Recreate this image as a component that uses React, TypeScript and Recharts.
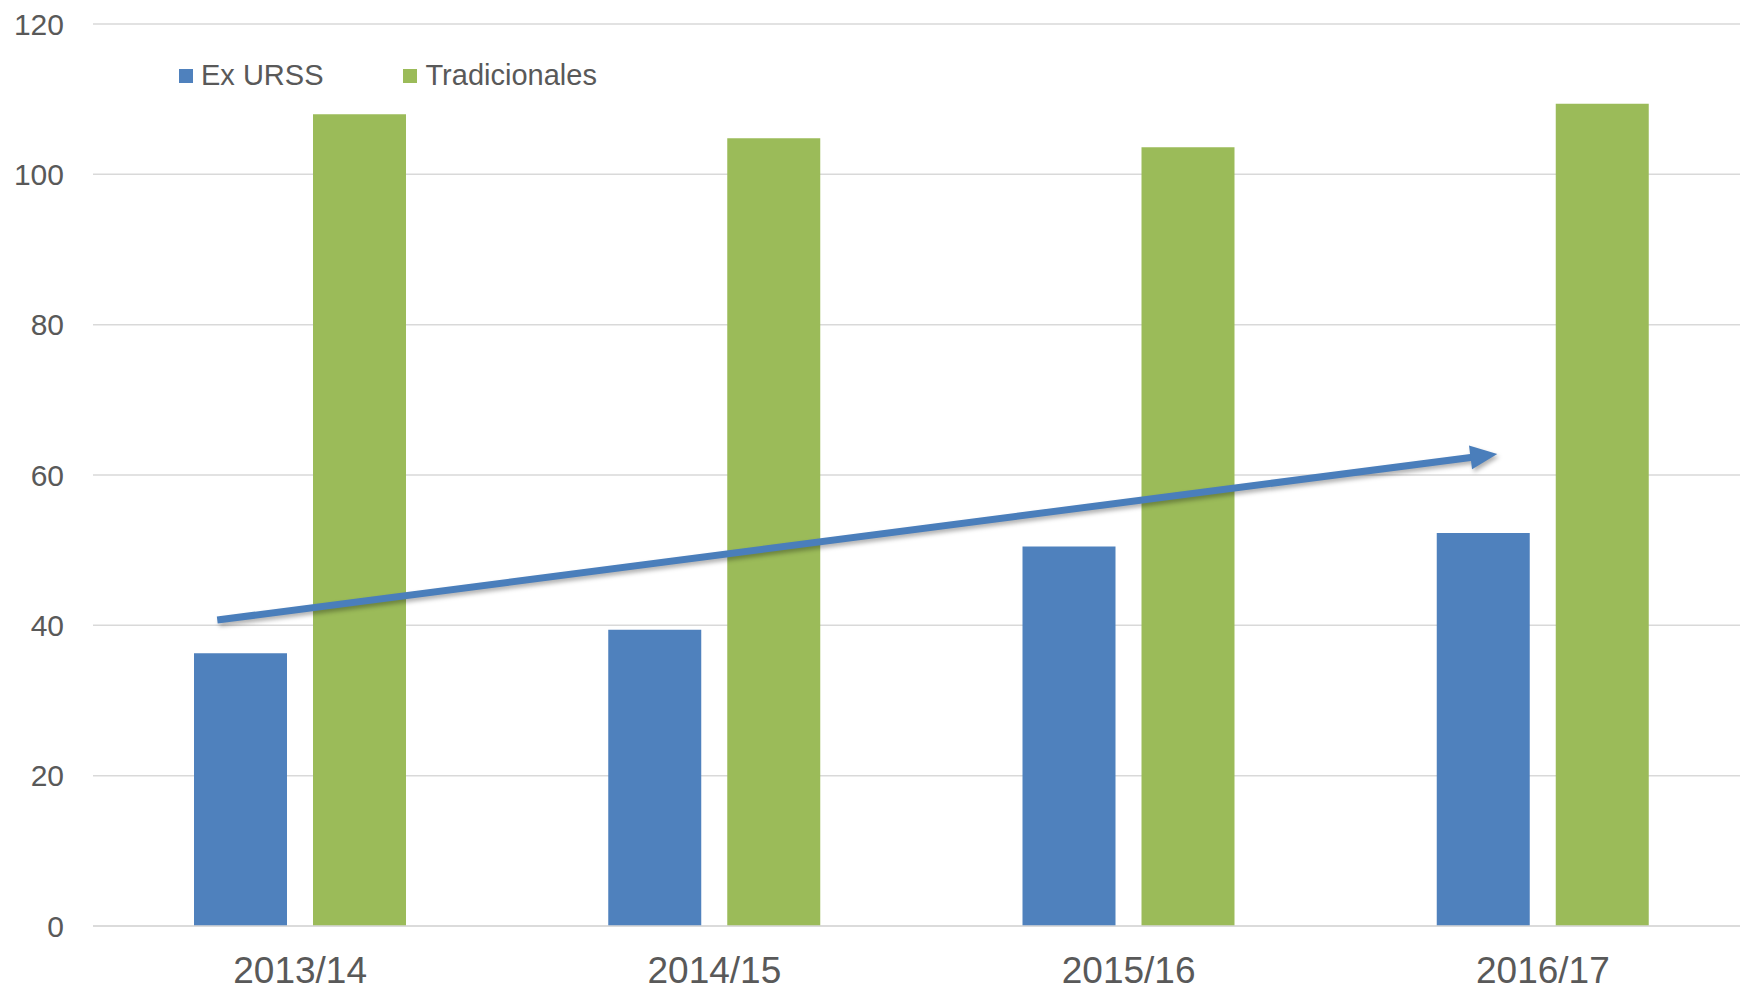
import { BarChart, Bar, XAxis, YAxis, CartesianGrid, ReferenceLine, Legend, LineChart } from 'recharts';

const categories = ['2013/14', '2014/15', '2015/16', '2016/17'];
const exUrss = [36.3, 39.4, 50.5, 52.3];
const tradicionales = [108.0, 104.8, 103.6, 109.4];
const yTicks = [0, 20, 40, 60, 80, 100, 120];

// trend arrow, in (category position, value) units; categories span 0..4
const arrowStart = { x: 0.3, y: 40.7 };
const arrowEnd = { x: 3.39, y: 62.8 };

const BLUE = '#4f81bd';
const GREEN = '#9bbb59';
const TEXT = '#595959';
const GRID = '#d9d9d9';
const FONT = 'Liberation Sans, Arial, sans-serif';

const W = 1740;
const H = 988;
// plot runs a little past the right edge, as in the source
const MARGIN = { top: 24, right: -10, left: 0, bottom: 0 };

const data = categories.map((c, i) => ({
  name: c,
  exUrss: exUrss[i],
  tradicionales: tradicionales[i],
}));

const legendItems = [
  { label: 'Ex URSS', color: BLUE },
  { label: 'Tradicionales', color: GREEN },
];

function LegendContent() {
  return (
    <div style={{ display: 'flex', alignItems: 'center', fontFamily: FONT, fontSize: 29, color: TEXT, whiteSpace: 'nowrap' }}>
      {legendItems.map((it, i) => (
        <div key={it.label} style={{ display: 'flex', alignItems: 'center', marginRight: i === 0 ? 80 : 0 }}>
          <span style={{ width: 14, height: 14, background: it.color, display: 'inline-block', marginRight: 8 }} />
          <span>{it.label}</span>
        </div>
      ))}
    </div>
  );
}

function Arrow(props: any) {
  const { x1, y1, x2, y2 } = props;
  if ([x1, y1, x2, y2].some((v) => typeof v !== 'number' || Number.isNaN(v))) return null;
  const dx = x2 - x1;
  const dy = y2 - y1;
  const len = Math.sqrt(dx * dx + dy * dy);
  const ux = dx / len;
  const uy = dy / len;
  const headLen = 27;
  const headHalf = 12;
  const bx = x2 - ux * headLen;
  const by = y2 - uy * headLen;
  const pts = [
    [x2, y2],
    [bx - uy * headHalf, by + ux * headHalf],
    [bx + uy * headHalf, by - ux * headHalf],
  ]
    .map((p) => p.join(','))
    .join(' ');
  return (
    <g style={{ filter: 'drop-shadow(2px 3px 2px rgba(0,0,0,0.3))' }}>
      <line x1={x1} y1={y1} x2={bx + ux * 2} y2={by + uy * 2} stroke="#4a7ebb" strokeWidth={7} />
      <polygon points={pts} fill="#4a7ebb" />
    </g>
  );
}

export default function App() {
  return (
    <div style={{ position: 'absolute', left: 0, top: 0, width: W, height: H, background: '#fff', overflow: 'hidden' }}>
      <BarChart width={W} height={H} data={data} margin={MARGIN} barSize={93} barGap={26}>
        <CartesianGrid vertical={false} stroke={GRID} strokeWidth={1.5} />
        <XAxis
          dataKey="name"
          height={62}
          axisLine={{ stroke: GRID, strokeWidth: 1.5 }}
          tickLine={false}
          tickSize={0}
          tickMargin={31}
          tick={{ fontSize: 37, fill: TEXT, fontFamily: FONT }}
        />
        <YAxis
          width={93}
          domain={[0, 120]}
          ticks={yTicks}
          axisLine={false}
          tickLine={false}
          tickSize={0}
          tickMargin={29}
          tick={{ fontSize: 30, fill: TEXT, fontFamily: FONT }}
        />
        <Legend
          verticalAlign="middle"
          layout="horizontal"
          content={<LegendContent />}
          wrapperStyle={{ position: 'absolute', left: 179, top: 59, width: 'auto' }}
        />
        <Bar dataKey="exUrss" name="Ex URSS" fill={BLUE} isAnimationActive={false} />
        <Bar dataKey="tradicionales" name="Tradicionales" fill={GREEN} isAnimationActive={false} />
      </BarChart>
      <div style={{ position: 'absolute', left: 0, top: 0, pointerEvents: 'none' }}>
        <LineChart width={W} height={H} data={[arrowStart, arrowEnd]} margin={MARGIN}>
          <XAxis dataKey="x" type="number" domain={[0, 4]} allowDataOverflow height={62} tick={false} axisLine={false} tickLine={false} />
          <YAxis width={93} domain={[0, 120]} allowDataOverflow tick={false} axisLine={false} tickLine={false} />
          <ReferenceLine segment={[arrowStart, arrowEnd]} ifOverflow="visible" shape={(p: any) => <Arrow {...p} />} />
        </LineChart>
      </div>
    </div>
  );
}
